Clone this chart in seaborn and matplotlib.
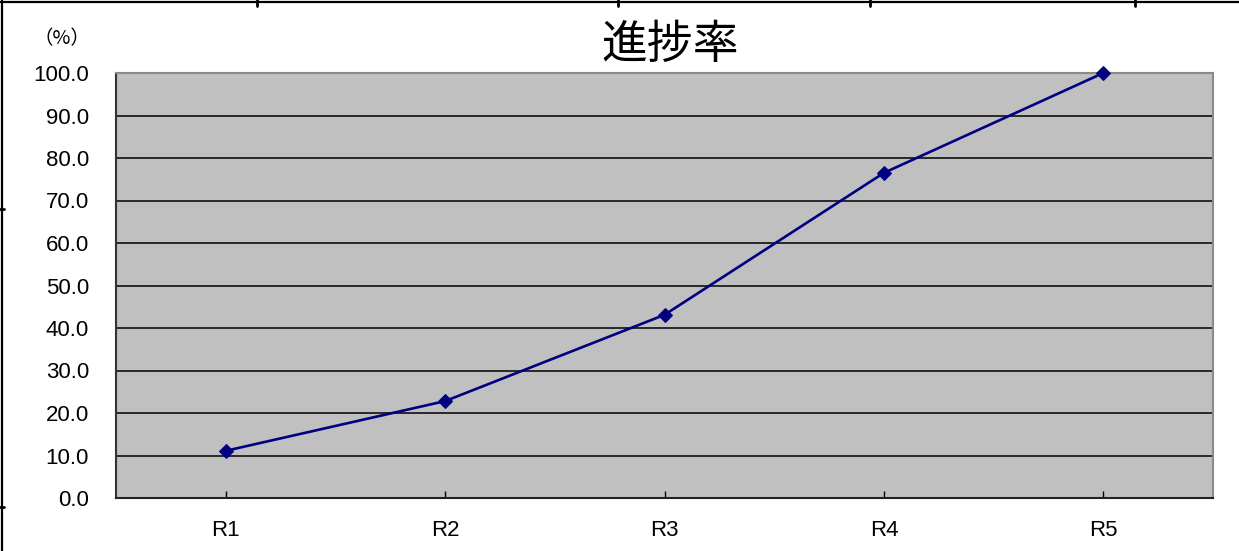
import matplotlib
matplotlib.use("Agg")
import matplotlib.pyplot as plt
from matplotlib.lines import Line2D
import seaborn as sns
import pandas as pd

categories = ["R1", "R2", "R3", "R4", "R5"]
progress = [11.1, 22.8, 43.1, 76.5, 100.0]
y_ticks = [0, 10, 20, 30, 40, 50, 60, 70, 80, 90, 100]
title_text = "進捗率"
unit_text = "（%）"

sns.set_theme(style="white")
plt.rcParams['font.family'] = ['Liberation Sans', 'Noto Sans CJK JP', 'DejaVu Sans']

df = pd.DataFrame({"round": categories, "rate": progress})

fig = plt.figure(figsize=(12.39, 5.51), dpi=100)
ax = fig.add_axes([116/1239, 1-498/551, (1213-116)/1239, (498-73)/551])
ax.set_facecolor("#c0c0c0")

sns.lineplot(data=df, x="round", y="rate", ax=ax, sort=False, color="#000080",
             linewidth=1.9, marker="D", markersize=7, markeredgecolor="#000080",
             zorder=5, clip_on=False)

ax.set_xlim(-0.5, len(categories) - 0.5)
ax.set_ylim(0, 100)
ax.set_yticks(y_ticks)
ax.set_yticklabels([f"{v:.1f}" for v in y_ticks])
ax.set_xticks(range(len(categories)))
ax.set_xticklabels(categories)
ax.set_xlabel("")
ax.set_ylabel("")

for v in y_ticks[1:-1]:
    ax.axhline(v, color="#000000", linewidth=1.1, zorder=1)

ax.tick_params(axis="y", direction="in", length=0, pad=19.5, labelsize=16, colors="#000000")
ax.tick_params(axis="x", direction="in", length=5, width=1, pad=16, labelsize=16,
               colors="#000000", bottom=True)
for lab in ax.get_xticklabels() + ax.get_yticklabels():
    lab.set_color("#000000")

ax.spines["left"].set_color("#333333")
ax.spines["left"].set_linewidth(1.5)
ax.spines["bottom"].set_color("#222222")
ax.spines["bottom"].set_linewidth(1.5)
ax.spines["top"].set_color("#8a8a8a")
ax.spines["top"].set_linewidth(1.5)
ax.spines["right"].set_color("#8a8a8a")
ax.spines["right"].set_linewidth(1.5)

fig.text(670/1239, 1-45/551, title_text, ha="center", va="center", fontsize=33,
         family=['Noto Sans CJK JP', 'DejaVu Sans'], color="#000000")
fig.text(62/1239, 1-39/551, unit_text, ha="center", va="center", fontsize=14,
         family=['Noto Sans CJK JP', 'DejaVu Sans'], color="#000000")

# surrounding sheet border lines
W, H = 1239, 551
def fl(x0, y0, x1, y1, lw=1.6):
    fig.add_artist(Line2D([x0/W, x1/W], [1-y0/H, 1-y1/H], color="#000000", linewidth=lw,
                          transform=fig.transFigure))
fl(0, 2, W, 2)
fl(2, 0, 2, H)
for xx in [257, 618, 870, 1135]:
    fl(xx, 0, xx, 6, lw=2)
for yy in [209, 507]:
    fl(0, yy, 4, yy, lw=2)

fig.savefig("out.png", dpi=100, facecolor="white")
